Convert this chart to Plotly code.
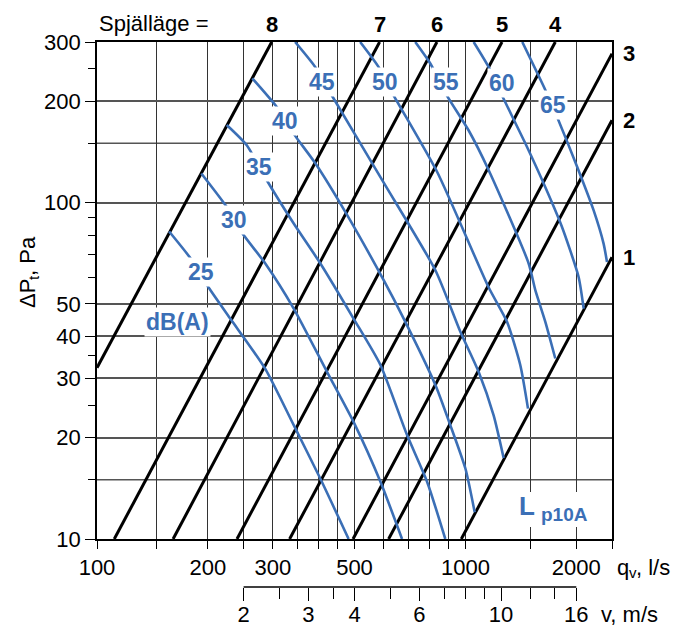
import math
import plotly.graph_objects as go

# ---------------------------------------------------------------- data
# Damper positions (Spjälläge) - straight characteristic lines, start / end points
damper_pos = [8, 7, 6, 5, 4, 3, 2, 1]
damper_q_start = [100, 111.4, 160.9, 239.9, 333.3, 495.4, 618.9, 974.7]
damper_dp_start = [32.3, 10, 10, 10, 10, 10, 10, 10]
damper_q_end = [298, 585, 837, 1257, 1754, 2500, 2500, 2500]
damper_dp_end = [300, 300, 300, 300, 300, 277, 175.6, 68.8]

# Sound level curves L_p10A, dB(A)
levels = [25, 30, 35, 40, 45, 50, 55, 60, 65]
level_25_q = [157, 181, 199, 230, 286, 342, 404, 482]
level_25_dp = [82, 67.4, 56.8, 45.2, 32.1, 21.8, 15.1, 10]
level_30_q = [192, 225, 248, 286, 342, 421, 497, 588, 673]
level_30_dp = [122, 97, 81, 66, 48.4, 31.4, 22.3, 14.8, 10]
level_35_q = [225, 255, 289, 342, 404, 497, 588, 694, 787, 882]
level_35_dp = [170, 148, 116.5, 86.6, 65.9, 45.2, 32.9, 20.4, 14.8, 10]
level_40_q = [264, 308, 342, 391, 472, 600, 680, 829, 910, 1000, 1060]
level_40_dp = [234, 192, 160, 131, 93.8, 58.8, 45.2, 28.7, 21.8, 16.2, 12.0]
level_45_q = [345, 391, 434, 599, 829, 969, 1086, 1193, 1270]
level_45_dp = [300, 253, 208, 115, 62.9, 41.3, 31.4, 23.3, 17.4]
level_50_q = [518, 581, 639, 839, 1156, 1297, 1409, 1479]
level_50_dp = [300, 253, 208, 123, 56, 44.2, 32.9, 24.4]
level_55_q = [731, 803, 891, 1020, 1156, 1485, 1548, 1648, 1754]
level_55_dp = [300, 259, 208, 164, 125, 65.9, 54.9, 44.2, 34.4]
level_60_q = [1053, 1156, 1257, 1454, 1648, 1829, 2029, 2094]
level_60_dp = [300, 253, 208, 150, 111, 84.6, 60.1, 48.4]
level_65_q = [1427, 1648, 1773, 2009, 2228, 2372, 2423]
level_65_dp = [300, 216, 180, 128, 94.9, 75.5, 66.6]

level_q = [level_25_q, level_30_q, level_35_q, level_40_q, level_45_q,
           level_50_q, level_55_q, level_60_q, level_65_q]
level_dp = [level_25_dp, level_30_dp, level_35_dp, level_40_dp, level_45_dp,
            level_50_dp, level_55_dp, level_60_dp, level_65_dp]

# Axes: flow q_v (l/s), pressure drop dP_t (Pa), duct velocity v (m/s)
q_labels = [100, 200, 300, 500, 1000, 2000]
q_minor = [145, 250, 350, 400, 450, 600, 700, 800, 900, 1500, 2500]
dp_labels = [10, 20, 30, 40, 50, 100, 200, 300]
dp_minor = [15, 25, 35, 60, 70, 80, 90, 150, 250]
dp_extra_grid = [15, 150]
v_labels = [2, 3, 4, 6, 10, 16]
v_minor = [2.5, 3.5, 5, 7, 8, 9, 12, 14]
duct_area_lps_per_ms = 125  # l/s per m/s  (0.125 m2)

# ---------------------------------------------------------------- layout geometry
W, H = 683, 628
ML, MR, MT, MB = 97, 71, 42, 22
PW, PH = W - ML - MR, H - MT - MB
MAIN_BOTTOM_PX = 539
V_AXIS_PX = 587


def px_x(px):
    return (px - ML) / PW


def px_y(py):
    return (H - MB - py) / PH


BLUE = "#3b6fb6"
FONT = "Liberation Sans, Arial, Helvetica, sans-serif"
TICK_SIZE = 22

fig = go.Figure()

# damper characteristic lines
for pos, q0, p0, q1, p1 in zip(damper_pos, damper_q_start, damper_dp_start,
                               damper_q_end, damper_dp_end):
    fig.add_trace(go.Scatter(x=[q0, q1], y=[p0, p1], mode="lines",
                             line=dict(color="black", width=3),
                             hoverinfo="skip", showlegend=False))

# sound level curves
for lv, qs, ps in zip(levels, level_q, level_dp):
    fig.add_trace(go.Scatter(x=qs, y=ps, mode="lines",
                             line=dict(color=BLUE, width=2.6, shape="spline",
                                       smoothing=0.6),
                             hoverinfo="skip", showlegend=False))

# invisible trace to activate the velocity axis
fig.add_trace(go.Scatter(x=[250, 2000], y=[None, None], xaxis="x2", yaxis="y",
                         mode="lines", showlegend=False, hoverinfo="skip"))


def text_ann(x, y, text, xref="paper", yref="paper", size=TICK_SIZE,
             color="black", bold=False, **kw):
    d = dict(x=x, y=y, xref=xref, yref=yref, text=text, showarrow=False,
             xanchor=kw.pop("xanchor", "center"),
             yanchor=kw.pop("yanchor", "middle"),
             font=dict(family=FONT, size=size, color=color,
                       weight=700 if bold else 400))
    d.update(kw)
    return d


ann = []
label_pos = {  # (q, dp) anchor of each level label
    25: (192, 62.2), 30: (235, 88.6), 35: (275, 127.3), 40: (324.5, 175),
    45: (409, 227.8), 50: (606, 227.8), 55: (888, 227.8), 60: (1260, 226.2),
    65: (1732, 194.5),
}
for lv in levels:
    q, p = label_pos[lv]
    ann.append(text_ann(math.log10(q), math.log10(p), str(lv), "x", "y",
                        size=23, color=BLUE, bold=True,
                        bgcolor="white", borderpad=1))
ann.append(text_ann(math.log10(165), math.log10(44.1), "dB(A)", "x", "y",
                    size=23, color=BLUE, bold=True, bgcolor="white",
                    borderpad=1))
# L p10A: main letter plus subscript
ann.append(text_ann(px_x(527), px_y(506), "L", size=26, color=BLUE,
                    bold=True))
ann.append(text_ann(px_x(564), px_y(514), "p10A", size=19, color=BLUE,
                    bold=True))

# damper position labels
for pos, q1, p1 in zip(damper_pos, damper_q_end, damper_dp_end):
    if p1 >= 300:
        ann.append(text_ann(math.log10(q1), px_y(25), str(pos), "x", "paper",
                            size=22, bold=True))
    else:
        ann.append(text_ann(px_x(629), math.log10(p1), str(pos), "paper", "y",
                            size=22, bold=True))
ann.append(text_ann(px_x(97), px_y(23), "Spjälläge =", xanchor="left"))

# axis titles (subscripts set as separate smaller texts)
ann.append(text_ann(px_x(27), px_y(294), "ΔP", textangle=-90))
ann.append(text_ann(px_x(33), px_y(278), "t", size=15, textangle=-90))
ann.append(text_ann(px_x(27), px_y(256), ", Pa", textangle=-90))
ann.append(text_ann(px_x(615), px_y(567), "q", xanchor="left"))
ann.append(text_ann(px_x(627), px_y(572), "v", size=15, xanchor="left"))
ann.append(text_ann(px_x(634), px_y(567), ", l/s", xanchor="left"))
ann.append(text_ann(px_x(599), px_y(614), "v, m/s", xanchor="left"))

shapes = []
for p in dp_extra_grid:
    shapes.append(dict(type="line", xref="paper", yref="y", x0=0, x1=1,
                       y0=p, y1=p, layer="below",
                       line=dict(color="#555", width=1.6)))
# white patch behind the L p10A caption
shapes.append(dict(type="rect", xref="paper", yref="paper",
                   x0=px_x(514), x1=px_x(591), y0=px_y(527), y1=px_y(492),
                   fillcolor="white", line=dict(width=0), layer="above"))
# velocity scale base line
v_pos = px_y(V_AXIS_PX)
shapes.append(dict(type="line", xref="x", yref="paper",
                   x0=v_labels[0] * duct_area_lps_per_ms,
                   x1=v_labels[-1] * duct_area_lps_per_ms,
                   y0=v_pos, y1=v_pos, line=dict(color="black", width=1.5)))

fig.update_layout(
    width=W, height=H,
    margin=dict(l=ML, r=MR, t=MT, b=MB, autoexpand=False),
    paper_bgcolor="white", plot_bgcolor="white",
    font=dict(family=FONT, size=TICK_SIZE, color="black"),
    xaxis=dict(type="log", range=[2, math.log10(2500)], domain=[0, 1],
               anchor="y", automargin=False,
               tickmode="array", tickvals=q_labels,
               ticktext=[str(v) for v in q_labels],
               ticks="outside", ticklen=8, tickwidth=1.2, tickcolor="black",
               showgrid=True, gridcolor="#333", gridwidth=1.1,
               minor=dict(tickvals=q_minor, ticks="outside", ticklen=8,
                          tickwidth=1.2, tickcolor="black", showgrid=True,
                          gridcolor="#333", gridwidth=1.1),
               showline=True, linecolor="black", linewidth=2, mirror=True,
               ticklabelstandoff=0, zeroline=False, fixedrange=True),
    xaxis2=dict(type="log", range=[2, math.log10(2500)], overlaying="x",
                anchor="free", position=v_pos, side="bottom",
                automargin=False,
                tickmode="array",
                tickvals=[v * duct_area_lps_per_ms for v in v_labels],
                ticktext=["%g" % v for v in v_labels],
                ticks="outside", ticklen=13, tickwidth=1.3, tickcolor="black",
                minor=dict(tickvals=[v * duct_area_lps_per_ms for v in v_minor],
                           ticks="outside", ticklen=11, tickwidth=1.2,
                           tickcolor="black", showgrid=False),
                showgrid=False, showline=False, zeroline=False,
                ticklabelstandoff=-5, fixedrange=True),
    yaxis=dict(type="log", range=[1, math.log10(300)],
               domain=[px_y(MAIN_BOTTOM_PX), 1], automargin=False,
               tickmode="array", tickvals=dp_labels,
               ticktext=[str(v) for v in dp_labels],
               ticks="outside", ticklen=10, tickwidth=1.2, tickcolor="black",
               minor=dict(tickvals=dp_minor, ticks="outside", ticklen=7,
                          tickwidth=1.2, tickcolor="black", showgrid=False),
               showgrid=True, gridcolor="#555", gridwidth=1.6,
               showline=True, linecolor="black", linewidth=1.6, mirror=True,
               zeroline=False, fixedrange=True),
    annotations=ann,
    shapes=shapes,
)

fig.write_html("out.html")
